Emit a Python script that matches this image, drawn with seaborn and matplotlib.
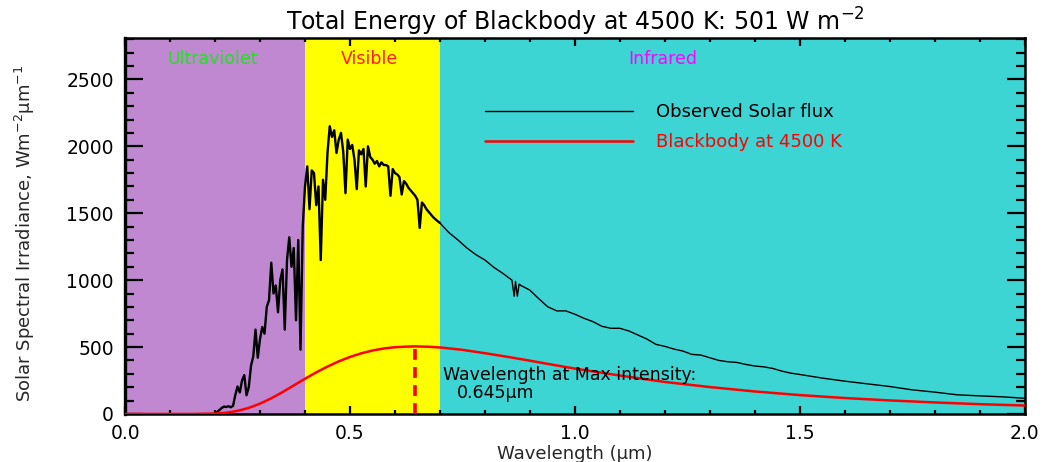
import numpy as np
import pandas as pd
import matplotlib
matplotlib.use("Agg")
import matplotlib.pyplot as plt
import seaborn as sns

# ---------------- data ----------------
# Observed solar flux (W m-2 um-1), dense UV/visible part
obs_wl_uvvis = [
    0.200, 0.205, 0.210, 0.215, 0.220, 0.225, 0.230, 0.235, 0.240, 0.245,
    0.250, 0.255, 0.260, 0.265, 0.270, 0.275, 0.280, 0.285, 0.290, 0.295,
    0.300, 0.305, 0.310, 0.315, 0.320, 0.325, 0.330, 0.335, 0.340, 0.345,
    0.350, 0.355, 0.360, 0.365, 0.370, 0.375, 0.380, 0.385, 0.390, 0.395,
    0.400, 0.405, 0.410, 0.415, 0.420, 0.425, 0.430, 0.435, 0.440, 0.445,
    0.450, 0.455, 0.460, 0.465, 0.470, 0.475, 0.480, 0.485, 0.490, 0.495,
    0.500, 0.505, 0.510, 0.515, 0.520, 0.525, 0.530, 0.535, 0.540, 0.545,
    0.550, 0.555, 0.560, 0.565, 0.570, 0.575, 0.580, 0.585, 0.590, 0.595,
    0.600, 0.605, 0.610, 0.615, 0.620, 0.625, 0.630, 0.635, 0.640, 0.645,
    0.650, 0.655, 0.660, 0.665, 0.670, 0.675, 0.680, 0.685, 0.690, 0.695,
    0.700,
]
obs_flux_uvvis = [
    5, 15, 30, 45, 55, 52, 58, 50, 60, 140,
    205, 160, 250, 290, 140, 200, 360, 430, 630, 420,
    560, 650, 600, 800, 850, 1130, 900, 960, 760, 1000,
    1080, 630, 1150, 1320, 1100, 1240, 700, 1300, 480, 1400,
    1700, 1850, 1530, 1820, 1800, 1560, 1700, 1150, 1750, 1600,
    1950, 2150, 2070, 2120, 1950, 2050, 2100, 1960, 1650, 2050,
    1980, 2010, 1900, 1680, 1970, 1940, 1980, 1700, 2000, 1920,
    1900, 1870, 1890, 1850, 1880, 1860, 1860, 1850, 1630, 1830,
    1800, 1790, 1770, 1640, 1740, 1720, 1690, 1670, 1650, 1630,
    1600, 1390, 1580, 1560, 1530, 1510, 1490, 1470, 1455, 1440,
    1427,
]
# Observed solar flux, smoother infrared part
obs_wl_ir = [
    0.700, 0.72, 0.74, 0.76, 0.78, 0.80, 0.82, 0.84, 0.86, 0.865, 0.868,
    0.872, 0.876, 0.88, 0.90, 0.92, 0.94, 0.96, 0.98, 1.00, 1.02,
    1.04, 1.06, 1.08, 1.10, 1.12, 1.14, 1.16, 1.18, 1.20, 1.22,
    1.24, 1.26, 1.28, 1.30, 1.32, 1.34, 1.36, 1.38, 1.40, 1.42,
    1.44, 1.46, 1.48, 1.50, 1.55, 1.60, 1.65, 1.70, 1.75, 1.80,
    1.85, 1.90, 1.95, 2.00,
]
obs_flux_ir = [
    1427, 1355, 1300, 1240, 1190, 1150, 1095, 1050, 1000, 880, 990,
    880, 970, 960, 925, 860, 800, 770, 770, 745, 715,
    690, 655, 640, 640, 620, 590, 560, 520, 505, 485,
    470, 445, 440, 420, 400, 390, 385, 370, 358, 352,
    340, 320, 305, 295, 268, 245, 225, 205, 180, 163,
    143, 135, 128, 117,
]

# Blackbody at 4500 K (W m-2 um-1)
bb_wl = [
    0.0, 0.10, 0.15, 0.20, 0.225, 0.25, 0.275, 0.30, 0.325, 0.35,
    0.375, 0.40, 0.425, 0.45, 0.475, 0.50, 0.525, 0.55, 0.575, 0.60,
    0.625, 0.645, 0.675, 0.70, 0.75, 0.80, 0.85, 0.90, 0.95, 1.00,
    1.10, 1.20, 1.30, 1.40, 1.50, 1.60, 1.70, 1.80, 1.90, 2.00,
]
bb_flux = [
    0, 0, 0, 3, 9, 23, 45, 77, 117, 163,
    213, 263, 311, 354, 393, 426, 453, 474, 489, 499,
    503, 505, 502, 497, 479, 454, 427, 398, 368, 339,
    287, 239, 201, 168, 141, 119, 101, 86, 73, 63,
]

band_names = ["Ultraviolet", "Visible", "Infrared"]
band_edges = [0.0, 0.4, 0.7, 2.0]
lambda_max = 0.645
temperature = 4500
total_energy = 501
x_ticks = [0.0, 0.5, 1.0, 1.5, 2.0]
y_ticks = [0, 500, 1000, 1500, 2000, 2500]

# ---------------- styling ----------------
band_colors = ["#BF88D0", "#FFFF00", "#3DD4D4"]
band_text_colors = ["#22E022", "#FF2020", "#FF00FF"]
band_text_x = [0.196, 0.544, 1.196]

sns.set_style("ticks")
plt.rcParams["font.family"] = ["DejaVu Sans"]

uvvis_df = pd.DataFrame({"wavelength": obs_wl_uvvis, "flux": obs_flux_uvvis})
ir_df = pd.DataFrame({"wavelength": obs_wl_ir, "flux": obs_flux_ir})
bb_df = pd.DataFrame({"wavelength": bb_wl, "flux": bb_flux})

fig = plt.figure(figsize=(10.51, 4.62), dpi=100)
ax = fig.add_axes([0.119, 0.104, 0.856, 0.814])

for i, name in enumerate(band_names):
    ax.axvspan(band_edges[i], band_edges[i + 1], color=band_colors[i], lw=0, zorder=0)
    ax.text(band_text_x[i], 2650, name, color=band_text_colors[i],
            ha="center", va="center", fontsize=12.5, zorder=3)

sns.lineplot(data=uvvis_df, x="wavelength", y="flux", ax=ax, color="black",
             lw=1.7, estimator=None, sort=False, zorder=4)
sns.lineplot(data=ir_df, x="wavelength", y="flux", ax=ax, color="black",
             lw=1.0, estimator=None, sort=False,
             label="Observed Solar flux", zorder=4)
sns.lineplot(data=bb_df, x="wavelength", y="flux", ax=ax, color="#FF0000",
             lw=1.8, estimator=None, sort=False,
             label=f"Blackbody at {temperature} K", zorder=5)

peak_val = bb_flux[bb_wl.index(lambda_max)]
ax.vlines(lambda_max, 0, peak_val, colors="#FF0000", lw=2.6,
          linestyles=(0, (3, 2)), zorder=5)

ax.text(0.707, 293, "Wavelength at Max intensity:", fontsize=12.5,
        ha="left", va="center", color="black", zorder=6)
ax.text(0.738, 160, f"{lambda_max}µm", fontsize=12.5,
        ha="left", va="center", color="black", zorder=6)

ax.set_xlim(0, 2.0)
ax.set_ylim(0, 2810)
ax.set_xticks(x_ticks)
ax.set_xticklabels([f"{v:.1f}" for v in x_ticks])
ax.set_yticks(y_ticks)
ax.set_yticklabels([str(v) for v in y_ticks])
ax.xaxis.set_minor_locator(matplotlib.ticker.MultipleLocator(0.1))
ax.yaxis.set_minor_locator(matplotlib.ticker.MultipleLocator(100))

ax.tick_params(axis="both", which="both", direction="in", top=True, right=True,
               colors="black", labelsize=13.5, width=1.6)
ax.tick_params(axis="y", which="major", length=13, pad=8)
ax.tick_params(axis="y", which="minor", length=6.5)
ax.tick_params(axis="x", which="major", length=5.5, pad=7)
ax.tick_params(axis="x", which="minor", length=2.8)
for s in ax.spines.values():
    s.set_linewidth(1.8)
    s.set_color("black")
ax.spines["left"].set_linewidth(2.4)

ax.set_title(f"Total Energy of Blackbody at {temperature} K: {total_energy} W m$^{{-2}}$",
             fontsize=17, pad=5, color="black")
ax.set_xlabel("Wavelength (µm)", fontsize=13)
ax.set_ylabel("Solar Spectral Irradiance, Wm$^{-2}$µm$^{-1}$", fontsize=13)
ax.xaxis.set_label_coords(0.5, -0.082)
ax.yaxis.set_label_coords(-0.098, 0.479)

leg = ax.legend(loc="upper left", bbox_to_anchor=(0.4, 0.826), frameon=False,
                fontsize=13, handlelength=8.2, handletextpad=1.3,
                labelspacing=0.65, borderaxespad=0, borderpad=0,
                labelcolor="linecolor")

fig.savefig("out.png", dpi=100)
